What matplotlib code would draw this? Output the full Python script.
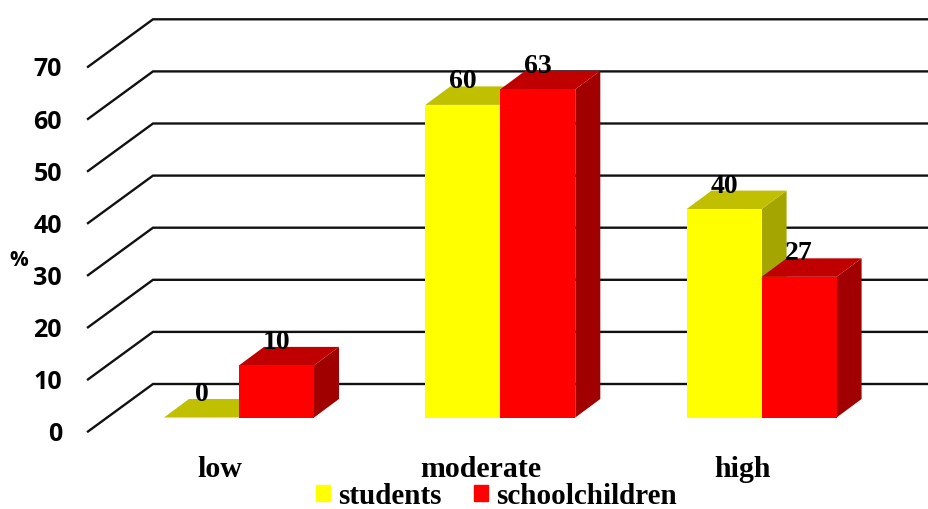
# Grouped pseudo-3D bar chart of low / moderate / high levels for two groups

import numpy as np
import matplotlib
matplotlib.use("Agg")
import matplotlib.pyplot as plt
from matplotlib.patches import Patch

categories = ["low", "moderate", "high"]
series_names = ["students", "schoolchildren"]
students = [0, 60, 40]
schoolchildren = [10, 63, 27]
y_ticks = [0, 10, 20, 30, 40, 50, 60, 70]

# Face colours of each box: front, top, side
yellow_faces = ("#ffff00", "#c0c000", "#a5a500")
red_faces = ("#ff0000", "#c00000", "#a00000")

# Scale of the axes: one category step and one percent, in pixels
PX_X = 261.3
PX_Y = 5.21

bar_w = 75 / PX_X
depth_x = 25 / PX_X
depth_y = 18.5 / PX_Y
floor_front = -14 / PX_Y
floor_back = 33.5 / PX_Y


def draw_box(ax, left, value, faces, z):
    # Draws one box: side and top first, then the front on top of them
    right = left + bar_w
    ax.fill([right, right + depth_x, right + depth_x, right],
            [0, depth_y, value + depth_y, value],
            color=faces[2], lw=0, zorder=z)
    ax.fill([left, left + depth_x, right + depth_x, right],
            [value, value + depth_y, value + depth_y, value],
            color=faces[1], lw=0, zorder=z)
    ax.fill([left, right, right, left], [0, 0, value, value],
            color=faces[0], lw=0, zorder=z)


fig = plt.figure(figsize=(9.29, 5.09), dpi=100)
ax = fig.add_axes([0, 0, 1, 1])
ax.set_xlim(-239 / PX_X, (929 - 239) / PX_X)
ax.set_ylim((417.5 - 509) / PX_Y, 417.5 / PX_Y)
ax.axis("off")

# Floor-to-wall lines at every tick
front_x = (88 - 239) / PX_X
back_x = (153 - 239) / PX_X
right_x = (929 - 239) / PX_X
for v in y_ticks:
    ax.plot([front_x, back_x, right_x],
            [v + floor_front, v + floor_back, v + floor_back],
            color="#111111", lw=1.7, zorder=1, solid_joinstyle="miter")
    ax.text((62 - 239) / PX_X, v + floor_front - 0.6, str(v), ha="right", va="center",
            family="Open Sans", weight="bold", fontsize=18, color="black", zorder=5)

# Boxes for both series, grouped around each category position
x = np.arange(len(categories))
for i in range(len(categories)):
    draw_box(ax, x[i] - bar_w, students[i], yellow_faces, 2 + i)
    draw_box(ax, x[i], schoolchildren[i], red_faces, 2 + i)
    ax.text(x[i] - bar_w / 2, students[i] + 4.4, str(students[i]), ha="center", va="center",
            family="Liberation Serif", weight="bold", fontsize=20, zorder=6)
    ax.text(x[i] + bar_w / 2, schoolchildren[i] + 4.4, str(schoolchildren[i]), ha="center", va="center",
            family="Liberation Serif", weight="bold", fontsize=20, zorder=6)
    ax.text(x[i] - 19 / PX_X, -9.9, categories[i], ha="center", va="center",
            family="Liberation Serif", weight="bold", fontsize=21.5)

ax.text((19 - 239) / PX_X, (417.5 - 261) / PX_Y, "%", ha="center", va="center",
        family="Open Sans", weight="bold", fontsize=15)

# Legend underneath the plot
handles = [Patch(color=yellow_faces[0]), Patch(color=red_faces[0])]
fig.legend(handles, series_names, ncol=2, frameon=False, loc="center",
           bbox_to_anchor=(496.5 / 929, 1 - 496 / 509),
           prop={"family": "Liberation Serif", "weight": "bold", "size": 21},
           handlelength=0.5, handleheight=0.5, handletextpad=0.27, columnspacing=1.1,
           borderpad=0)

plt.savefig("out.png", dpi=100)
